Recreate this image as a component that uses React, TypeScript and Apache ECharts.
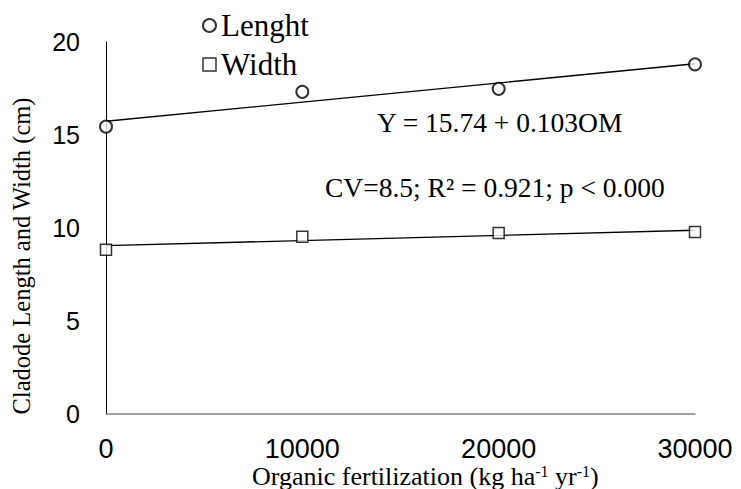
import React, { useEffect, useRef } from "react";
import * as echarts from "echarts";

const doses = [0, 10000, 20000, 30000];
const lengthVals = [15.45, 17.32, 17.48, 18.8];
const widthVals = [8.83, 9.53, 9.73, 9.78];
const lengthTrend = [15.74, 18.83];
const widthTrend = [9.05, 9.88];
const trendX = [0, 30000];
const yTicks = { min: 0, max: 20, interval: 5 };
const xTicks = { min: 0, max: 30000, interval: 10000 };
const seriesNames = ["Lenght", "Width"];
const equationText = "Y = 15.74 + 0.103OM";
const statsText = "CV=8.5; R² = 0.921; p < 0.000";
const yTitle = "Cladode Length and Width (cm)";

const SERIF = "'Liberation Serif', 'Times New Roman', serif";
const SANS = "'Liberation Sans', Arial, sans-serif";

export default function App() {
  const ref = useRef<HTMLDivElement>(null);
  useEffect(() => {
    if (!ref.current) return;
    const chart = echarts.init(ref.current, null, { renderer: "svg" });
    chart.setOption({
      animation: false,
      backgroundColor: "#ffffff",
      grid: { left: 106, right: 46, top: 42, bottom: 75 },
      legend: {
        orient: "vertical",
        left: 197,
        top: 5,
        itemGap: 8,
        itemWidth: 13,
        itemHeight: 13,
        textStyle: { fontFamily: SERIF, fontSize: 31, color: "#000" },
        data: [
          { name: seriesNames[0], icon: "circle", itemStyle: { color: "#fff", borderColor: "#000", borderWidth: 2 } },
          { name: seriesNames[1], icon: "rect", itemStyle: { color: "#fff", borderColor: "#000", borderWidth: 1.5 } },
        ],
      },
      xAxis: {
        type: "value",
        min: xTicks.min,
        max: xTicks.max,
        interval: xTicks.interval,
        axisLine: { show: true, onZero: false, lineStyle: { color: "#868686", width: 1.5 } },
        axisTick: { show: false },
        splitLine: { show: false },
        axisLabel: {
          fontFamily: SANS,
          fontSize: 27,
          lineHeight: 22,
          color: "#000",
          margin: 24,
          formatter: (v: number) => String(v),
        },
      },
      yAxis: {
        type: "value",
        min: yTicks.min,
        max: yTicks.max,
        interval: yTicks.interval,
        axisLine: { show: true, lineStyle: { color: "#000", width: 1 } },
        axisTick: { show: false },
        splitLine: { show: false },
        axisLabel: { fontFamily: SANS, fontSize: 25, color: "#000", margin: 26 },
      },
      graphic: [
        {
          type: "text",
          left: 377,
          top: 108,
          style: { text: equationText, fontFamily: SERIF, fontSize: 27.5, fill: "#000" },
        },
        {
          type: "text",
          left: 325,
          top: 173,
          style: { text: statsText, fontFamily: SERIF, fontSize: 27.5, fill: "#000" },
        },
        {
          type: "text",
          x: 21,
          y: 256,
          rotation: Math.PI / 2,
          style: {
            text: yTitle,
            fontFamily: SERIF,
            fontSize: 24.5,
            fill: "#000",
            align: "center",
            verticalAlign: "middle",
          },
        },
        {
          type: "text",
          left: 252,
          top: 463,
          style: {
            text: "{a|Organic fertilization (kg ha}{s|-1}{a| yr}{s|-1}{a|)}",
            rich: {
              a: { fontFamily: SERIF, fontSize: 26, fill: "#000", verticalAlign: "bottom" },
              s: { fontFamily: SERIF, fontSize: 16, fill: "#000", verticalAlign: "top" },
            },
          },
        },
      ],
      series: [
        {
          name: seriesNames[0],
          type: "scatter",
          symbol: "circle",
          symbolSize: 12,
          itemStyle: { color: "#fff", borderColor: "#000", borderWidth: 2 },
          data: doses.map((d, i) => [d, lengthVals[i]]),
          z: 5,
        },
        {
          name: seriesNames[1],
          type: "scatter",
          symbol: "rect",
          symbolSize: 11,
          itemStyle: { color: "#fff", borderColor: "#000", borderWidth: 1.5 },
          data: doses.map((d, i) => [d, widthVals[i]]),
          z: 5,
        },
        {
          name: "lengthFit",
          type: "line",
          showSymbol: false,
          symbol: "none",
          lineStyle: { color: "#000", width: 1.3 },
          data: trendX.map((x, i) => [x, lengthTrend[i]]),
          z: 3,
        },
        {
          name: "widthFit",
          type: "line",
          showSymbol: false,
          symbol: "none",
          lineStyle: { color: "#000", width: 1.3 },
          data: trendX.map((x, i) => [x, widthTrend[i]]),
          z: 3,
        },
      ],
    });
    return () => chart.dispose();
  }, []);
  return (
    <div
      ref={ref}
      style={{ position: "absolute", left: 0, top: 0, width: 741, height: 489 }}
    />
  );
}
